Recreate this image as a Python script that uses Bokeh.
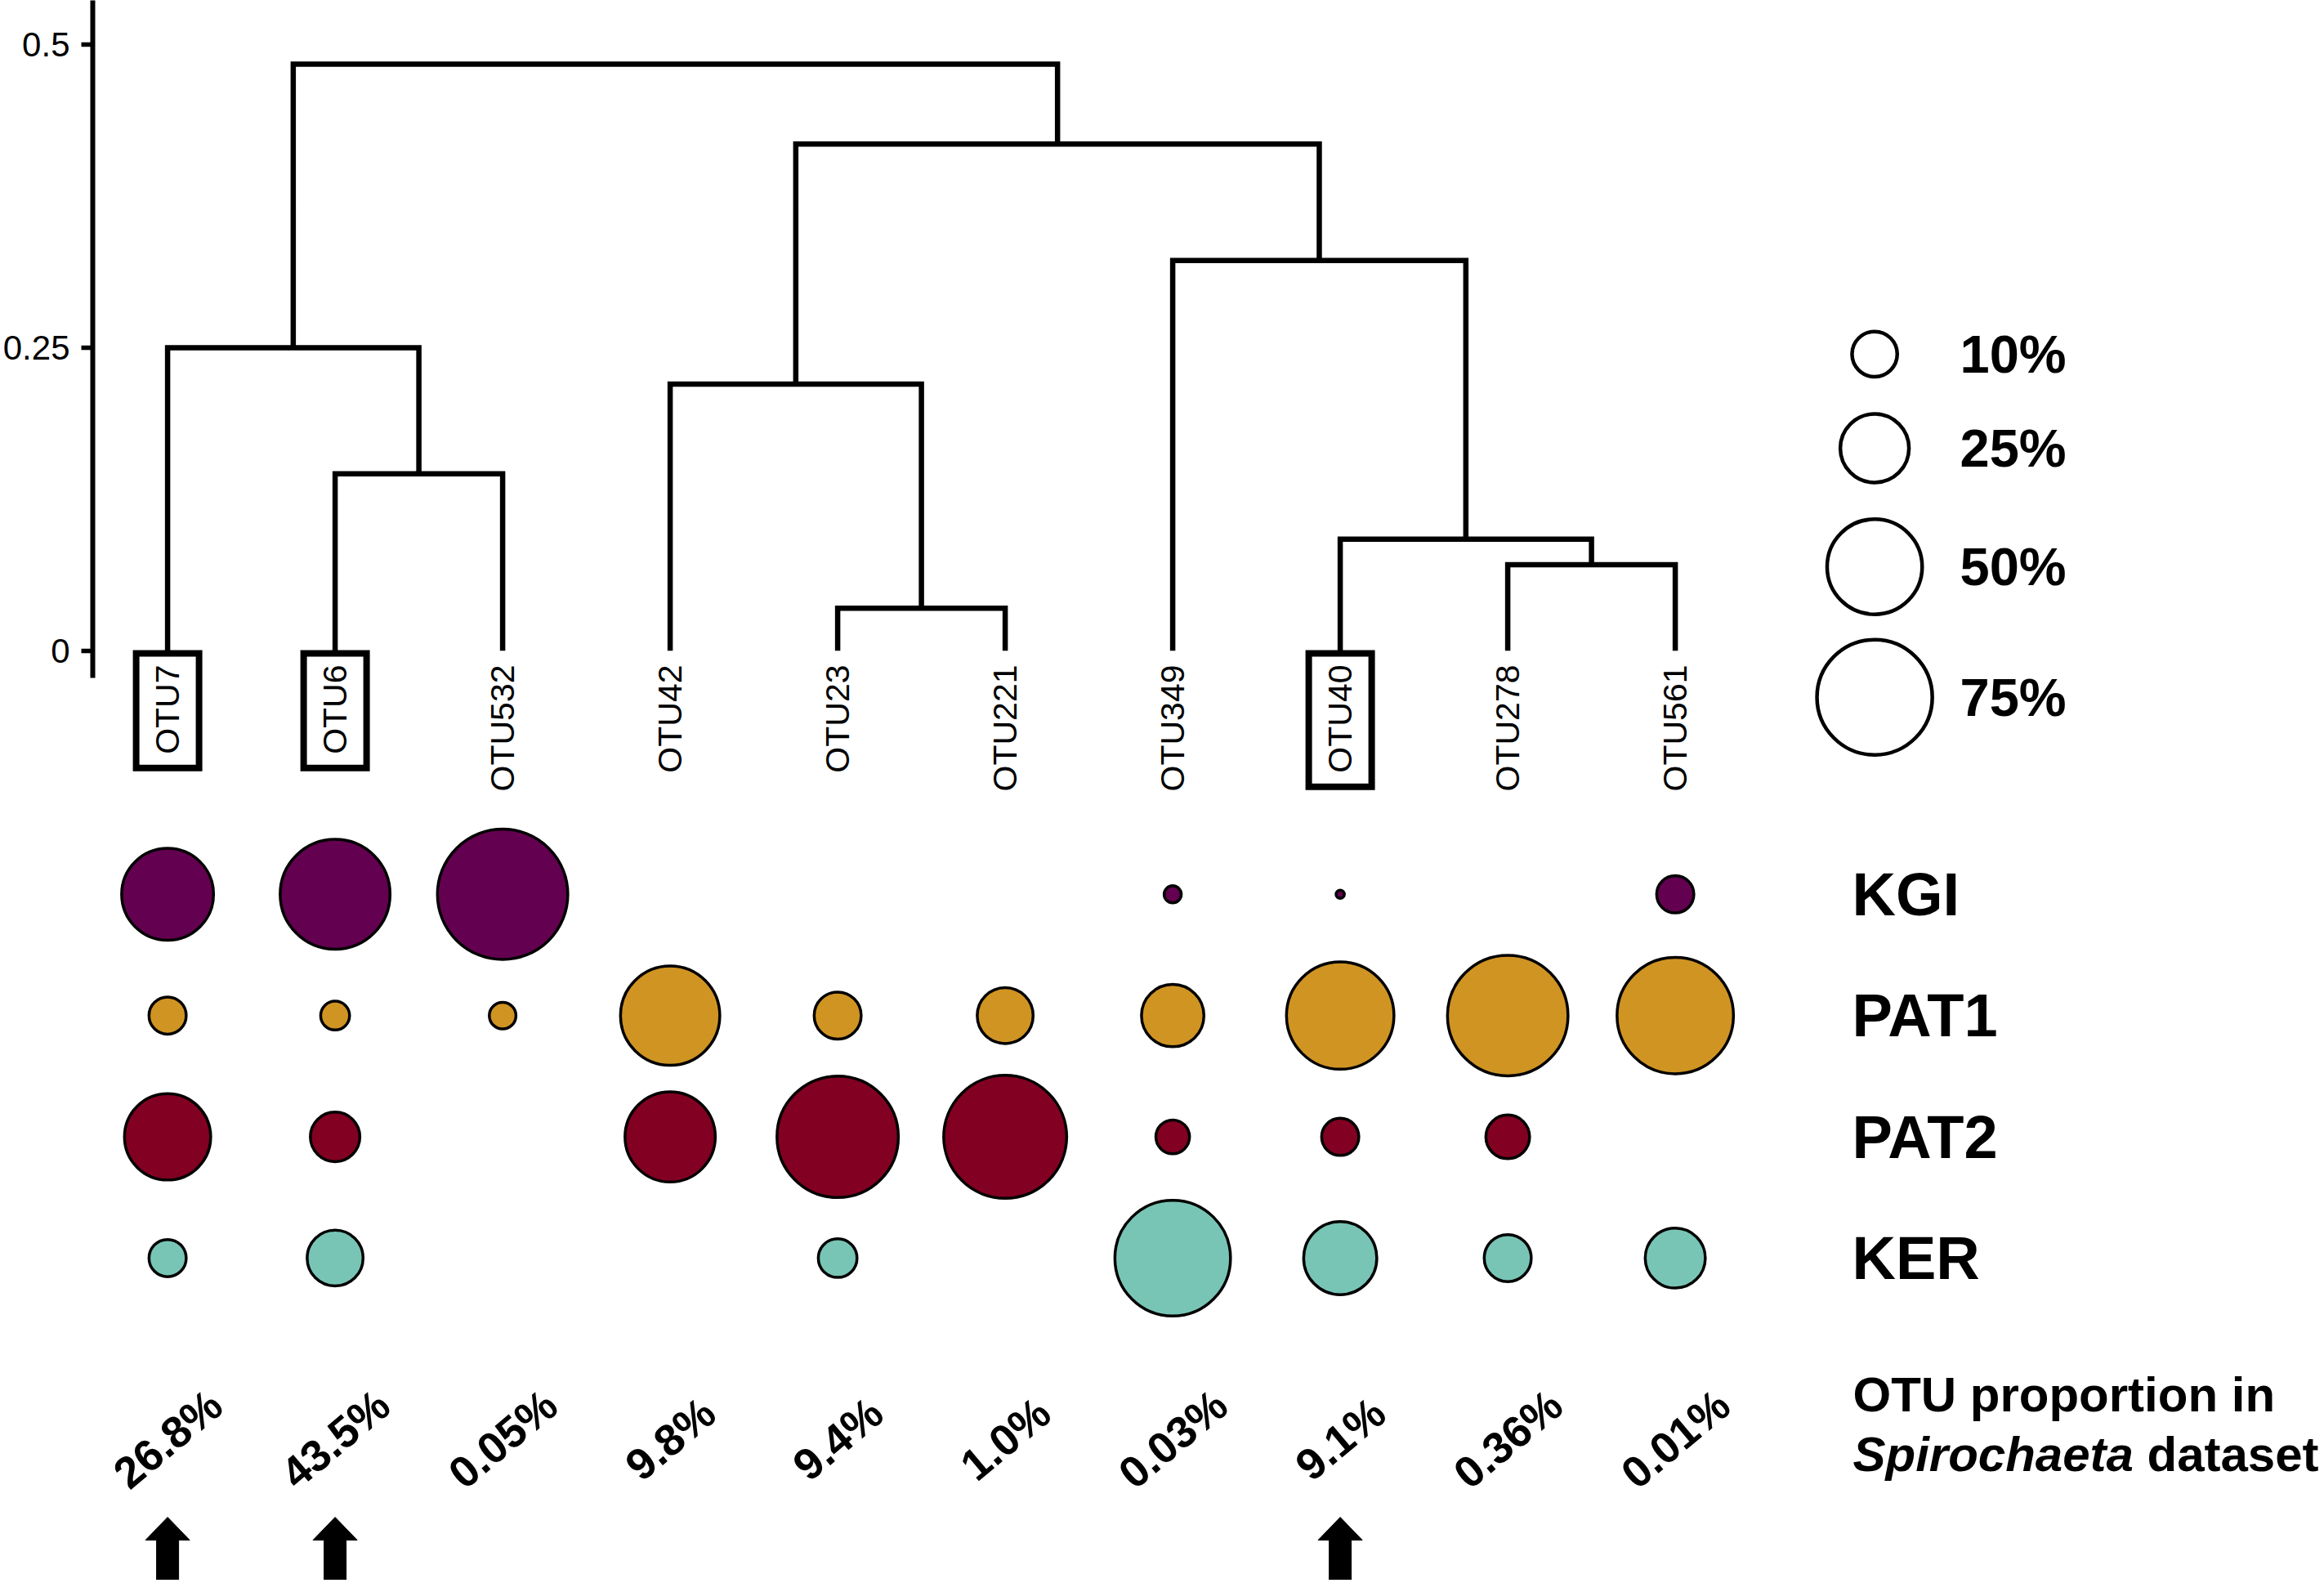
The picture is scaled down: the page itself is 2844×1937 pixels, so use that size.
import math
from bokeh.plotting import figure
from bokeh.models import Range1d, LinearAxis, FixedTicker, ColumnDataSource
from bokeh.core.properties import value
from bokeh.embed import file_html
from bokeh.resources import INLINE

# ---------------- data ----------------
leaves = ["OTU7", "OTU6", "OTU532", "OTU42", "OTU23", "OTU221",
          "OTU349", "OTU40", "OTU278", "OTU561"]
# hierarchical clustering merges: (child a, child b, height); merge k is named "m<k>"
merges = [
    ("OTU23", "OTU221", 0.035),   # m1
    ("OTU278", "OTU561", 0.071),  # m2
    ("OTU40", "m2", 0.092),       # m3
    ("OTU6", "OTU532", 0.146),    # m4
    ("OTU42", "m1", 0.220),       # m5
    ("OTU7", "m4", 0.250),        # m6
    ("OTU349", "m3", 0.322),      # m7
    ("m5", "m7", 0.418),          # m8
    ("m6", "m8", 0.484),          # m9
]
habitats = ["KGI", "PAT1", "PAT2", "KER"]
kgi = [45.7, 66.8, 95.6, 0, 0, 0, 0.8, 0.04, 0, 6.1]
pat1 = [6.1, 3.3, 2.7, 53.9, 10.5, 15.5, 19.8, 63.7, 81.1, 75.4]
pat2 = [39.9, 11.8, 0, 44.0, 82.3, 84.6, 4.8, 6.1, 8.9, 0]
ker = [6.1, 15.5, 0, 0, 6.7, 0, 74.3, 28.0, 10.5, 18.2]
habitat_colors = ["#630050", "#D09423", "#820022", "#78C5B6"]
prop_labels = ["26.8%", "43.5%", "0.05%", "9.8%", "9.4%", "1.0%",
               "0.03%", "9.1%", "0.36%", "0.01%"]
highlighted = ["OTU7", "OTU6", "OTU40"]
legend_values = [10, 25, 50, 75]
legend_labels = ["10%", "25%", "50%", "75%"]
y_ticks = [0, 0.25, 0.5]
y_tick_labels = ["0", "0.25", "0.5"]

# ---------------- geometry helpers (page pixels -> data) ----------------
X0, DX = 204.6, 205.0      # first leaf x and leaf spacing (px)
Y0, SY = 795.7, 1483.0     # y of height 0 and px per height unit
W, H = 2840, 1933
LEFT = 113


def xd(px):
    return 1 + (px - X0) / DX


def yd(py):
    return (Y0 - py) / SY


def bubble_d(v):
    return 10.5 + 15.6 * math.sqrt(v)


FONT = "Liberation Sans"

p = figure(width=W, height=H, output_backend="svg", toolbar_location=None,
           x_range=Range1d(xd(LEFT), xd(W)), y_range=Range1d(yd(H), yd(0)),
           x_axis_type=None, y_axis_type=None,
           min_border_left=LEFT, min_border_right=0, min_border_top=0, min_border_bottom=0)
p.grid.visible = False
p.outline_line_color = None
p.background_fill_color = "white"
p.border_fill_color = "white"

# ---------------- y axis ----------------
ax = LinearAxis(ticker=FixedTicker(ticks=y_ticks))
ax.major_label_overrides = {t: l for t, l in zip(y_ticks, y_tick_labels)}
ax.axis_line_width = 6
ax.axis_line_color = "black"
ax.major_tick_line_width = 5.5
ax.major_tick_line_color = "black"
ax.major_tick_out = 14
ax.major_tick_in = 0
ax.minor_tick_line_color = None
ax.major_label_text_font = FONT
ax.major_label_text_font_size = "42px"
ax.major_label_text_color = "black"
ax.major_label_standoff = 14
ax.bounds = (yd(829), yd(0))
p.add_layout(ax, "left")

# ---------------- dendrogram ----------------
pos = {name: (i + 1, 0.0) for i, name in enumerate(leaves)}
dxs, dys = [], []
for k, (a, b, h) in enumerate(merges):
    xa, ha = pos[a]
    xb, hb = pos[b]
    dxs.append([xa, xa, xb, xb])
    dys.append([ha, h, h, hb])
    pos[f"m{k + 1}"] = ((xa + xb) / 2, h)
p.multi_line(dxs, dys, line_color="black", line_width=6.5, line_join="miter", line_cap="butt")

# ---------------- leaf labels ----------------
leaf_x = [i + 1 for i in range(len(leaves))]
p.text(x=leaf_x, y=[yd(813)] * len(leaves), text=leaves, angle=math.pi / 2,
       text_align="right", text_baseline="middle", text_font=value(FONT),
       text_font_size="41px", text_color="black")

# boxes around highlighted leaves
arial_w = {"O": 0.778, "T": 0.611, "U": 0.722}
bx, by, bw, bh = [], [], [], []
for name in highlighted:
    L = sum(arial_w.get(c, 0.556) for c in name) * 41
    top = 795 + 4
    bottom = 813 + L + 21 - 4
    bx.append(leaves.index(name) + 1)
    by.append((yd(top) + yd(bottom)) / 2)
    bw.append(77 / DX)
    bh.append((bottom - top) / SY)
p.rect(x=bx, y=by, width=bw, height=bh, fill_color=None, line_color="black",
       line_width=8, line_join="miter")

# ---------------- bubbles ----------------
row_py = [1093.8, 1242.2, 1390.6, 1538.9]
series = [kgi, pat1, pat2, ker]
BL = 3.5
src = dict(x=[], y=[], size=[], color=[])
for r, vals in enumerate(series):
    for i, v in enumerate(vals):
        if v > 0:
            src["x"].append(i + 1)
            src["y"].append(yd(row_py[r]))
            src["size"].append(bubble_d(v) - BL)
            src["color"].append(habitat_colors[r])
p.scatter(x="x", y="y", size="size", fill_color="color", line_color="black",
          line_width=BL, source=ColumnDataSource(src))

# row labels
p.text(x=[xd(2266)] * 4, y=[yd(v) for v in row_py], text=habitats,
       text_align="left", text_baseline="middle", text_font=value(FONT),
       text_font_style="bold", text_font_size="74px", text_color="black")

# ---------------- size legend ----------------
leg_py = [432.8, 548.0, 693.0, 852.7]
LL = 4.5
p.scatter(x=[xd(2293.6)] * 4, y=[yd(v) for v in leg_py],
          size=[bubble_d(v) - LL for v in legend_values],
          fill_color="white", line_color="black", line_width=LL)
p.text(x=[xd(2398)] * 4, y=[yd(v) for v in leg_py], text=legend_labels,
       text_align="left", text_baseline="middle", text_font=value(FONT),
       text_font_style="bold", text_font_size="65px", text_color="black")

# ---------------- proportion labels ----------------
p.text(x=leaf_x, y=[yd(1760)] * len(leaves), text=prop_labels,
       angle=math.radians(40), text_align="center", text_baseline="middle",
       text_font=value(FONT), text_font_style="bold", text_font_size="54px",
       text_color="black")

p.text(x=[xd(2267)], y=[yd(1706)], text=["OTU proportion in"],
       text_align="left", text_baseline="middle", text_font=value(FONT),
       text_font_style="bold", text_font_size="60px", text_color="black")
p.text(x=[xd(2267)], y=[yd(1779)], text=["Spirochaeta"],
       text_align="left", text_baseline="middle", text_font=value(FONT),
       text_font_style="bold italic", text_font_size="60px", text_color="black")
p.text(x=[xd(2267)], y=[yd(1779)], text=["dataset"], x_offset=360,
       text_align="left", text_baseline="middle", text_font=value(FONT),
       text_font_style="bold", text_font_size="60px", text_color="black")

# ---------------- arrows under highlighted OTUs ----------------
axs, ays = [], []
for name in highlighted:
    x = leaves.index(name) + 1
    hw, sw = 27 / DX, 13.5 / DX
    axs.append([x - hw, x, x + hw, x + sw, x + sw, x - sw, x - sw])
    ays.append([yd(1884), yd(1856), yd(1884), yd(1884), yd(1945), yd(1945), yd(1884)])
p.patches(axs, ays, fill_color="black", line_color="black", line_width=1)

open("out.html", "w").write(file_html(p, INLINE))
